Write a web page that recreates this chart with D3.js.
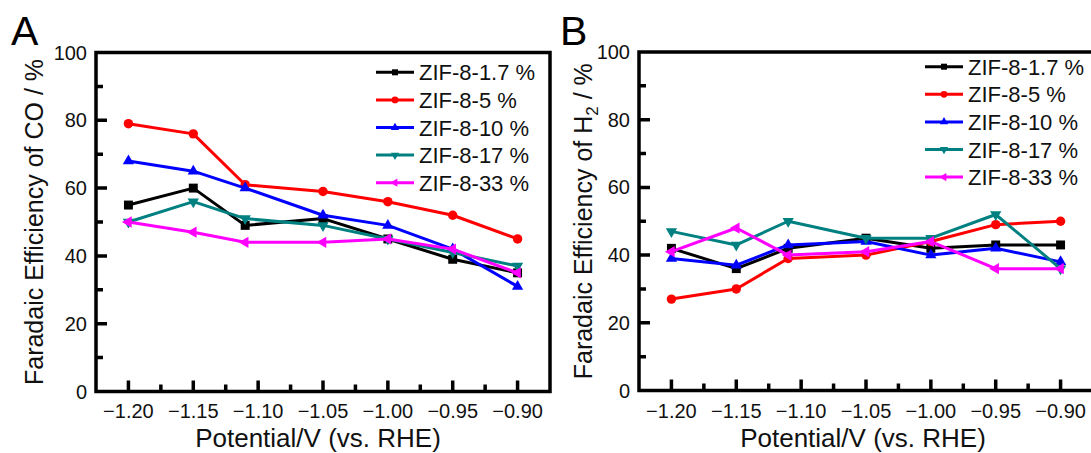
<!DOCTYPE html>
<html>
<head>
<meta charset="utf-8">
<script src="https://cdn.jsdelivr.net/npm/d3@7"></script>
<style>
  html, body { margin: 0; padding: 0; background: #fff; }
  svg { display: block; font-family: "Liberation Sans", Arial, sans-serif; }
</style>
</head>
<body>
<svg id="chart" width="1091" height="453"></svg>
<script>
// ---------- data ----------
const potentials = [-1.20, -1.15, -1.11, -1.05, -1.00, -0.95, -0.90];
const seriesNames = ["ZIF-8-1.7 %", "ZIF-8-5 %", "ZIF-8-10 %", "ZIF-8-17 %", "ZIF-8-33 %"];

const coFE_1_7 = [55, 60, 49, 51, 45, 39, 35];
const coFE_5   = [79, 76, 61, 59, 56, 52, 45];
const coFE_10  = [68, 65, 60, 52, 49, 42, 31];
const coFE_17  = [50, 56, 51, 49, 45, 41, 37];
const coFE_33  = [50, 47, 44, 44, 45, 42, 35];

const h2FE_1_7 = [42, 36, 42, 45, 42, 43, 43];
const h2FE_5   = [27, 30, 39, 40, 44, 49, 50];
const h2FE_10  = [39, 37, 43, 44, 40, 42, 38];
const h2FE_17  = [47, 43, 50, 45, 45, 52, 36];
const h2FE_33  = [41, 48, 40, 41, 44, 36, 36];

const xTickValues = [-1.20, -1.15, -1.10, -1.05, -1.00, -0.95, -0.90];
const xMinorValues = [-1.175, -1.125, -1.075, -1.025, -0.975, -0.925];
const yTickValues = [0, 20, 40, 60, 80, 100];
const yMinorValues = [10, 30, 50, 70, 90];

// ---------- styles ----------
const colors = ["#000000", "#ff0000", "#0000ff", "#008080", "#ff00ff"];
const symbolDefs = [
  {type: d3.symbolSquare, rot: 0, size: 80, lsize: 36},
  {type: d3.symbolCircle, rot: 0, size: 70, lsize: 36},
  {type: d3.symbolTriangle, rot: 0, size: 55, lsize: 30},
  {type: d3.symbolTriangle, rot: 180, size: 55, lsize: 30},
  {type: d3.symbolTriangle, rot: -90, size: 55, lsize: 30}
];
const FONT = "'Liberation Sans', Arial, sans-serif";
const LW = 3.5; // frame / tick thickness

const svg = d3.select("#chart");
svg.append("rect").attr("width", 1091).attr("height", 453).attr("fill", "#fff");

function drawPanel(cfg) {
  const x = d3.scaleLinear().domain([-1.225, -0.875]).range([cfg.left, cfg.right]);
  const y = d3.scaleLinear().domain([0, 100]).range([cfg.bottom, cfg.top]);
  const g = svg.append("g");

  // frame + ticks as one path of filled rectangles
  const L = cfg.left, R = cfg.right, T = cfg.top, B = cfg.bottom, h = LW / 2;
  const rects = [];
  rects.push([L - h, T - h, R - L + LW, LW]);
  rects.push([L - h, B - h, R - L + LW, LW]);
  rects.push([L - h, T - h, LW, B - T + LW]);
  rects.push([R - h, T - h, LW, B - T + LW]);
  xTickValues.forEach(d => rects.push([x(d) - h, B - 11, LW, 11]));
  xMinorValues.forEach(d => rects.push([x(d) - h, B - 7, LW, 7]));
  yTickValues.forEach(d => rects.push([L, y(d) - h, 11, LW]));
  yMinorValues.forEach(d => rects.push([L, y(d) - h, 7, LW]));
  const p = d3.path();
  rects.forEach(([rx, ry, rw, rh]) => p.rect(rx, ry, rw, rh));
  g.append("path").attr("d", p.toString()).attr("fill", "#000").attr("stroke", "none");

  // series
  const line = d3.line().x((d, i) => x(potentials[i])).y(d => y(d));
  cfg.series.forEach((vals, si) => {
    g.append("path").datum(vals)
      .attr("d", line).attr("fill", "none")
      .attr("stroke", colors[si]).attr("stroke-width", 3)
      .attr("stroke-linejoin", "round");
    const sd = symbolDefs[si];
    g.selectAll(null).data(vals).enter().append("path")
      .attr("d", d3.symbol().type(sd.type).size(sd.size))
      .attr("transform", (d, i) => `translate(${x(potentials[i])},${y(d)}) rotate(${sd.rot})`)
      .attr("fill", colors[si]);
  });

  // tick labels
  const fmt = d3.format(".2f");
  g.selectAll(null).data(xTickValues).enter().append("text")
    .attr("x", d => x(d)).attr("y", 417.5).attr("text-anchor", "middle")
    .style("font-size", "20px").style("font-family", FONT).attr("fill", "#111")
    .text(d => fmt(d));
  g.selectAll(null).data(yTickValues).enter().append("text")
    .attr("x", cfg.left - 9).attr("y", d => y(d) + 7).attr("text-anchor", "end")
    .style("font-size", "20px").style("font-family", FONT).attr("fill", "#111")
    .text(d => d);

  // axis titles
  svg.append("text")
    .attr("x", cfg.xTitleX).attr("y", 447).attr("text-anchor", "middle")
    .style("font-size", "26px").attr("fill", "#111")
    .text("Potential/V (vs. RHE)");

  const yt = svg.append("text")
    .attr("transform", `translate(${cfg.yTitleX},${(cfg.top + cfg.bottom) / 2}) rotate(-90)`)
    .attr("text-anchor", "middle").style("font-size", "25px").attr("fill", "#111");
  cfg.yTitle(yt);

  // panel letter
  svg.append("text").attr("x", cfg.letterX).attr("y", 45)
    .style("font-size", "41px").attr("fill", "#000").text(cfg.letter);

  // legend
  const lg = svg.append("g");
  seriesNames.forEach((name, si) => {
    const cy = cfg.legY + si * 27.6;
    lg.append("line").attr("x1", cfg.legX).attr("x2", cfg.legX + 38)
      .attr("y1", cy).attr("y2", cy).attr("stroke", colors[si]).attr("stroke-width", 3);
    const sd = symbolDefs[si];
    lg.append("path").attr("d", d3.symbol().type(sd.type).size(sd.lsize))
      .attr("transform", `translate(${cfg.legX + 19},${cy}) rotate(${sd.rot})`)
      .attr("fill", colors[si]);
    lg.append("text").attr("x", cfg.legX + 43).attr("y", cy + 8)
      .style("font-size", "22px").attr("fill", "#111").text(name);
  });
}

drawPanel({
  left: 96, right: 550, top: 52.5, bottom: 391.5,
  series: [coFE_1_7, coFE_5, coFE_10, coFE_17, coFE_33],
  xTitleX: 318, yTitleX: 43, letter: "A", letterX: 11,
  legX: 376, legY: 72.3,
  yTitle: t => t.text("Faradaic Efficiency of CO / %")
});

drawPanel({
  left: 639, right: 1093, top: 52, bottom: 390.5,
  series: [h2FE_1_7, h2FE_5, h2FE_10, h2FE_17, h2FE_33],
  xTitleX: 863, yTitleX: 592, letter: "B", letterX: 560,
  legX: 925, legY: 66.7,
  yTitle: t => {
    t.append("tspan").text("Faradaic Efficiency of H");
    t.append("tspan").attr("dy", 6).style("font-size", "17px").text("2");
    t.append("tspan").attr("dy", -6).text(" / %");
  }
});
</script>
</body>
</html>
